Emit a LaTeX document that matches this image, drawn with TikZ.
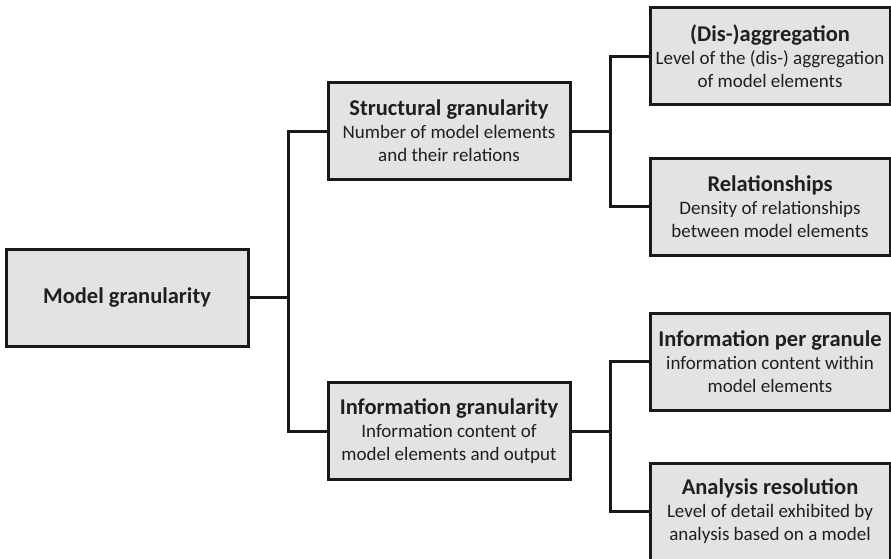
\documentclass[tikz,border=0pt]{standalone}
\usepackage{fontspec}
\setmainfont{Carlito}
\newcommand{\boxtitle}[1]{{\fontsize{22.5}{26}\selectfont\bfseries #1}}
\begin{document}
\begin{tikzpicture}[x=1pt,y=-1pt,
  box/.style={draw=black!90, line width=3pt, fill=black!11, minimum height=97pt,
    align=center, inner sep=2pt, text=black!88, font=\fontsize{19}{23}\selectfont},
  midbox/.style={box, minimum width=242pt},
  leafbox/.style={box, minimum width=240pt},
  link/.style={draw=black!90, line width=3pt}]
\useasboundingbox (0,0) rectangle (891,558);

% root
\node[midbox] (model) at (127,297.5) {\boxtitle{Model granularity}};

% second level
\node[midbox] (struct) at (449,131) {\boxtitle{Structural granularity}\\Number of model elements\\and their relations};
\node[midbox] (info) at (449,431) {\boxtitle{Information granularity}\\Information content of\\model elements and output};

% leaves
\node[leafbox] (disagg) at (770,56) {\boxtitle{(Dis-)aggregation}\\Level of the (dis-) aggregation\\of model elements};
\node[leafbox] (rel) at (770,206.5) {\boxtitle{Relationships}\\Density of relationships\\between model elements};
\node[leafbox] (ipg) at (770,361.5) {\boxtitle{Information per granule}\\information content within\\model elements};
\node[leafbox] (ana) at (770,511.5) {\boxtitle{Analysis resolution}\\Level of detail exhibited by\\analysis based on a model};

% junction points of the tree
\coordinate (j1) at (288,297.5);
\coordinate (j2) at (610,131);
\coordinate (j3) at (610,431);

\draw[link] (model.east) -- (j1);
\draw[link] (struct.west) -| (j1) |- (info.west);

\draw[link] (struct.east) -- (j2);
\draw[link] (disagg.west) -| (j2) |- (rel.west);

\draw[link] (info.east) -- (j3);
\draw[link] (ipg.west) -| (j3) |- (ana.west);
\end{tikzpicture}
\end{document}
